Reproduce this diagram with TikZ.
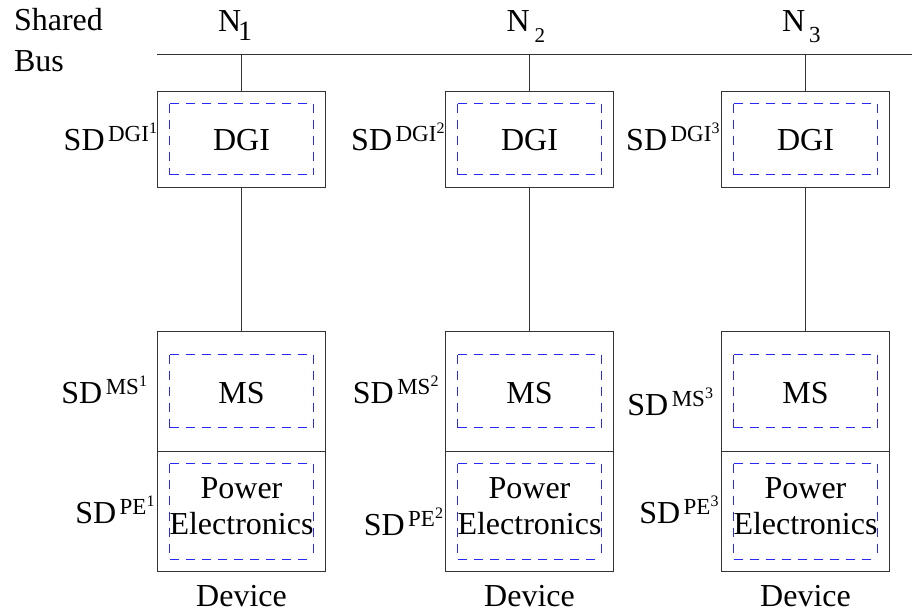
\documentclass[tikz,border=0pt]{standalone}
\usepackage{fontspec}
\setmainfont{Liberation Serif}
\definecolor{dblue}{RGB}{40,40,255}
\newcommand\sdlab[2]{SD\hspace{3.5pt}\raisebox{9pt}{\fontsize{23}{23}\selectfont #1\raisebox{7.5pt}{\fontsize{16}{16}\selectfont #2}}}
\newcommand\nlab[4]{N\hspace{#1}\raisebox{#2}{\fontsize{#3}{#3}\selectfont #4}}
\newcommand\dashsides[1]{%
  \draw[dashline] (#1.north west) -- (#1.north east);
  \draw[dashline] (#1.north east) -- (#1.south east);
  \draw[dashline] (#1.south west) -- (#1.south east);
  \draw[dashline] (#1.north west) -- (#1.south west);}
\begin{document}
\begin{tikzpicture}[x=1pt,y=-1pt,
  every node/.style={inner sep=0pt, outer sep=0pt, font=\fontsize{32}{36}\selectfont},
  outerbox/.style={draw=black!80, line width=1pt, rectangle, minimum width=168pt},
  dashbox/.style={rectangle, minimum width=144pt},
  dashline/.style={draw=dblue, line width=1.2pt, dash pattern=on 9pt off 7pt},
  wire/.style={draw=black!80, line width=1pt},
  lbl/.style={anchor=base east},
  txt/.style={anchor=base}]
\useasboundingbox (0,0) rectangle (912,613);

\node[anchor=base west] (shared) at (14,30.7) {Shared};
\node[anchor=base west] (bus) at (14,71) {Bus};

\coordinate (busL) at (157,54.5);
\coordinate (busR) at (912,54.5);
\draw[wire] (busL) -- (busR);

\node[anchor=base west] (n1) at (218,31) {\nlab{-3pt}{-9pt}{28}{1}};
\node[anchor=base west] (n2) at (506.5,31) {\nlab{5pt}{-11pt}{21}{2}};
\node[anchor=base west] (n3) at (782,31) {\nlab{4pt}{-11pt}{23}{3}};

\foreach \i/\x/\da/\ma/\mb/\pa/\pb in {1/241.5/157/147/403/154.5/523, 2/529.5/444.5/438.5/403/443/535, 3/805.5/719.5/713/415/718.5/523}{
  \coordinate (tap\i) at (\x,54.5);
  \node[outerbox, minimum height=96pt] (dgi\i) at (\x,139.5) {};
  \node[dashbox, minimum height=71pt] (dgid\i) at (\x,139) {};
  \dashsides{dgid\i}
  \node[txt] (dgit\i) at (\x,150) {DGI};
  \node[outerbox, minimum height=120pt] (ms\i) at (\x,391.5) {};
  \node[dashbox, minimum height=73pt] (msd\i) at (\x,391) {};
  \dashsides{msd\i}
  \node[txt] (mst\i) at (\x,403) {MS};
  \node[outerbox, minimum height=120pt] (pe\i) at (\x,511.5) {};
  \node[dashbox, minimum height=96pt] (ped\i) at (\x,511.5) {};
  \dashsides{ped\i}
  \node[txt] (pew\i) at (\x,498) {Power};
  \node[txt] (pee\i) at (\x,534) {Electronics};
  \node[txt] (dev\i) at (\x,606.5) {Device};
  \node[lbl] (sdd\i) at (\da,150) {\sdlab{DGI}{\i}};
  \node[lbl] (sdm\i) at (\ma,\mb) {\sdlab{MS}{\i}};
  \node[lbl] (sdp\i) at (\pa,\pb) {\sdlab{PE}{\i}};
  \draw[wire] (tap\i) -- (dgi\i.north);
  \draw[wire] (dgi\i.south) -- (ms\i.north);
}
\end{tikzpicture}
\end{document}
